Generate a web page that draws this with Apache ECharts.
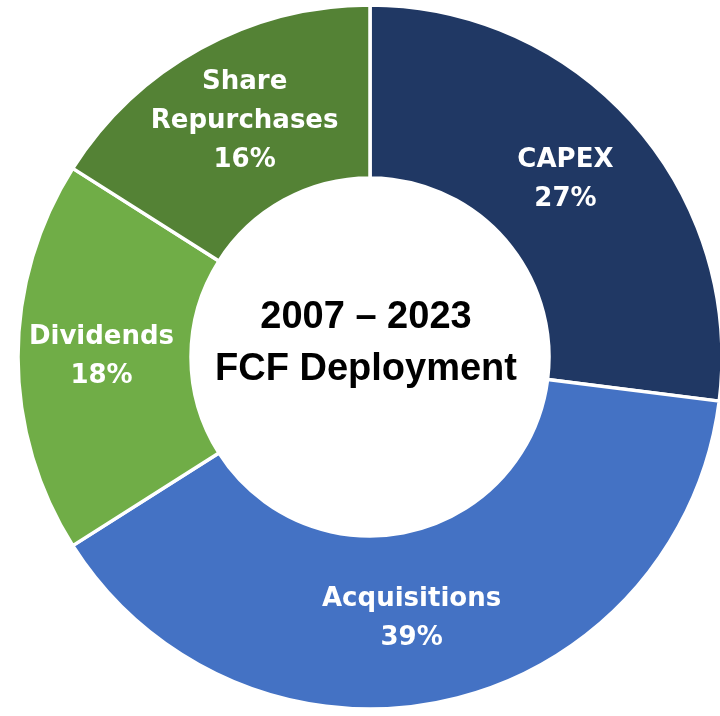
<!DOCTYPE html>
<html>
<head>
<meta charset="utf-8">
<script src="https://cdn.jsdelivr.net/npm/echarts@6/dist/echarts.min.js"></script>
<style>
  html, body { margin: 0; padding: 0; background: #fff; }
  #chart { width: 720px; height: 716px; }
</style>
</head>
<body>
<div id="chart"></div>
<script>
var categories = ['CAPEX', 'Acquisitions', 'Dividends', 'Share\nRepurchases'];
var shares = [27, 39, 18, 16];
var colors = ['#203864', '#4472C4', '#70AD47', '#548235'];
var centerLines = ['2007 – 2023', 'FCF Deployment'];
// label nudges (right padding pulls the text left)
var labelPad = [[0, 12, 0, 0], [0, 34, 0, 0], [0, 0, 0, 0], [0, 0, 0, 8]];

var myChart = echarts.init(document.getElementById('chart'));

var option = {
  backgroundColor: '#fff',
  animation: false,
  graphic: [{
    type: 'text',
    x: 366,
    y: 344,
    style: {
      text: centerLines.join('\n'),
      x: 0,
      y: 0,
      align: 'center',
      verticalAlign: 'middle',
      font: 'bold 38px "Liberation Sans", Arial, sans-serif',
      lineHeight: 52,
      fill: '#000'
    }
  }],
  series: [{
    type: 'pie',
    center: [370, 357],
    radius: [179, 352],
    startAngle: 90,
    clockwise: true,
    avoidLabelOverlap: false,
    itemStyle: {
      borderColor: '#fff',
      borderWidth: 3.5
    },
    label: {
      show: true,
      position: 'inside',
      formatter: function (p) {
        return p.name + '\n' + p.value + '%';
      },
      color: '#fff',
      fontFamily: '"DejaVu Sans", sans-serif',
      fontWeight: 'bold',
      fontSize: 26,
      lineHeight: 39,
      align: 'center'
    },
    labelLine: { show: false },
    emphasis: { disabled: true },
    data: categories.map(function (name, i) {
      return {
        name: name,
        value: shares[i],
        itemStyle: { color: colors[i] },
        label: { padding: labelPad[i] }
      };
    })
  }]
};

myChart.setOption(option);
</script>
</body>
</html>
